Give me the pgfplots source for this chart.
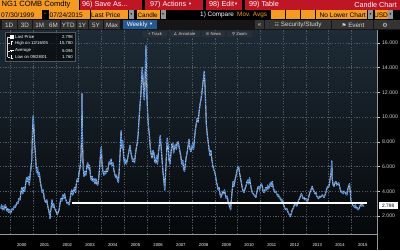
\documentclass[border=0pt]{standalone}
\usepackage{pgfplots}
\pgfplotsset{compat=1.18}
\usepackage{pgfplotstable}
\usepackage{fontspec}
\setmainfont{Liberation Sans}
\newfontfamily\dejavu{DejaVu Sans}
\newcommand{\fs}[1]{\fontsize{#1}{#1}\selectfont}
\definecolor{bbor}{RGB}{245,155,35}
\definecolor{bbred}{RGB}{190,22,36}
\definecolor{rowbg}{RGB}{22,22,22}
\definecolor{btn}{RGB}{52,52,52}
\definecolor{btntxt}{RGB}{215,215,215}
\definecolor{wkblue}{RGB}{38,88,148}
\definecolor{plottop}{RGB}{30,43,54}
\definecolor{plotbot}{RGB}{6,8,10}
\definecolor{gridc}{RGB}{78,88,98}
\definecolor{ytc}{RGB}{205,205,205}
\definecolor{candw}{RGB}{210,210,210}
\definecolor{candb}{RGB}{40,120,225}
\definecolor{ddgray}{RGB}{150,150,150}
\definecolor{ovl}{RGB}{42,48,56}

\pgfplotstableread{
x y
1999.58 2.6
1999.61 2.9
1999.65 2.5
1999.69 2.8
1999.73 2.5
1999.77 2.9
1999.81 2.7
1999.85 2.4
1999.88 2.6
1999.92 2.3
1999.96 2.5
2000.00 2.2
2000.04 2.4
2000.08 2.6
2000.12 2.5
2000.17 2.8
2000.21 2.7
2000.25 2.9
2000.29 3.1
2000.33 3.0
2000.37 3.4
2000.42 3.3
2000.46 3.9
2000.50 4.3
2000.54 3.8
2000.58 4.3
2000.62 4.0
2000.67 4.6
2000.71 5.1
2000.75 4.8
2000.79 5.2
2000.83 4.5
2000.87 5.4
2000.90 5.8
2000.94 6.6
2000.97 8.8
2001.00 10.1
2001.03 9.2
2001.06 7.9
2001.09 7.2
2001.12 6.3
2001.15 5.5
2001.19 5.9
2001.23 5.2
2001.27 5.5
2001.31 4.8
2001.35 4.4
2001.40 3.9
2001.44 4.1
2001.48 3.5
2001.52 3.2
2001.56 3.1
2001.60 3.3
2001.64 2.8
2001.68 2.5
2001.71 2.2
2001.74 1.8
2001.77 2.4
2001.80 2.8
2001.83 3.3
2001.87 2.7
2001.90 3.0
2001.94 2.6
2001.98 2.5
2002.02 2.3
2002.06 2.1
2002.10 2.3
2002.14 2.5
2002.18 3.0
2002.22 3.4
2002.26 3.2
2002.30 3.7
2002.34 3.4
2002.38 3.8
2002.42 3.4
2002.46 3.2
2002.50 3.0
2002.54 3.1
2002.58 2.9
2002.62 3.3
2002.66 3.8
2002.70 4.1
2002.74 3.7
2002.78 4.0
2002.82 4.3
2002.86 3.9
2002.90 4.6
2002.94 5.0
2002.98 4.8
2003.02 5.5
2003.06 5.9
2003.10 6.6
2003.13 8.5
2003.15 11.9
2003.17 8.0
2003.20 5.9
2003.24 5.2
2003.28 5.6
2003.32 5.3
2003.36 6.0
2003.40 6.3
2003.44 5.8
2003.48 6.1
2003.52 5.3
2003.56 4.9
2003.60 5.2
2003.64 4.8
2003.68 5.0
2003.72 4.6
2003.76 5.0
2003.80 4.6
2003.84 4.5
2003.88 5.0
2003.92 5.8
2003.96 6.9
2004.00 7.6
2004.03 6.2
2004.07 5.6
2004.11 5.3
2004.15 5.6
2004.19 5.4
2004.23 5.8
2004.27 5.6
2004.31 6.0
2004.35 6.4
2004.39 6.2
2004.43 6.6
2004.47 6.1
2004.51 6.3
2004.55 5.7
2004.59 5.4
2004.63 5.1
2004.67 5.3
2004.71 4.9
2004.75 4.7
2004.79 5.8
2004.83 7.2
2004.87 8.9
2004.90 7.5
2004.94 8.1
2004.98 6.8
2005.02 6.2
2005.06 6.6
2005.10 6.2
2005.14 6.5
2005.18 6.9
2005.22 7.3
2005.26 7.7
2005.30 7.1
2005.34 6.8
2005.38 6.4
2005.42 6.6
2005.46 6.3
2005.50 7.0
2005.54 7.5
2005.58 7.9
2005.62 8.6
2005.65 9.6
2005.68 10.4
2005.71 11.2
2005.74 11.8
2005.77 13.0
2005.80 14.0
2005.83 13.2
2005.86 12.1
2005.89 11.4
2005.92 12.6
2005.94 14.2
2005.96 15.78
2005.98 13.9
2006.01 11.5
2006.04 10.2
2006.07 9.3
2006.11 8.6
2006.15 7.6
2006.19 7.0
2006.23 6.7
2006.27 7.3
2006.31 7.1
2006.35 6.4
2006.39 6.3
2006.43 6.9
2006.47 6.2
2006.51 7.1
2006.55 7.7
2006.59 8.5
2006.63 7.6
2006.67 6.6
2006.71 5.6
2006.75 4.9
2006.79 4.1
2006.83 5.6
2006.87 7.1
2006.90 8.3
2006.94 7.6
2006.98 6.5
2007.02 6.2
2007.06 7.0
2007.10 7.8
2007.14 7.9
2007.18 7.1
2007.22 7.5
2007.26 7.8
2007.30 7.4
2007.34 7.9
2007.38 8.0
2007.42 7.6
2007.46 7.2
2007.50 6.8
2007.54 6.2
2007.58 6.5
2007.62 5.8
2007.66 5.6
2007.70 6.3
2007.74 6.8
2007.78 7.2
2007.82 7.7
2007.86 8.2
2007.90 7.4
2007.94 7.2
2007.98 7.5
2008.02 7.9
2008.06 7.4
2008.10 8.3
2008.14 9.0
2008.18 9.5
2008.22 9.9
2008.26 9.6
2008.30 10.4
2008.34 11.0
2008.38 11.4
2008.42 11.9
2008.46 12.6
2008.50 13.2
2008.53 13.7
2008.56 12.6
2008.59 11.0
2008.62 9.4
2008.66 8.6
2008.70 8.0
2008.74 7.4
2008.78 6.9
2008.82 7.3
2008.86 6.6
2008.90 6.1
2008.94 5.8
2008.98 5.6
2009.02 5.3
2009.06 4.8
2009.10 4.5
2009.14 4.1
2009.18 4.3
2009.22 3.8
2009.26 3.5
2009.30 3.7
2009.34 4.0
2009.38 3.8
2009.42 4.1
2009.46 3.7
2009.50 3.4
2009.54 3.6
2009.58 3.1
2009.62 2.9
2009.66 2.7
2009.69 2.5
2009.72 3.3
2009.76 4.1
2009.80 4.8
2009.84 4.4
2009.88 4.9
2009.92 5.2
2009.96 5.6
2010.00 5.9
2010.04 6.0
2010.08 5.5
2010.12 5.1
2010.16 4.7
2010.20 4.3
2010.24 4.0
2010.28 3.9
2010.32 4.2
2010.36 4.4
2010.40 4.7
2010.44 4.9
2010.48 4.6
2010.52 5.1
2010.56 4.6
2010.60 4.2
2010.64 3.9
2010.68 3.8
2010.72 3.7
2010.76 3.6
2010.80 3.5
2010.84 3.9
2010.88 4.3
2010.92 4.4
2010.96 4.1
2011.00 4.4
2011.04 4.6
2011.08 4.4
2011.12 4.0
2011.16 3.9
2011.20 4.1
2011.24 4.3
2011.28 4.1
2011.32 4.5
2011.36 4.2
2011.40 4.4
2011.44 4.7
2011.48 4.4
2011.52 4.8
2011.56 4.3
2011.60 4.1
2011.64 3.9
2011.68 4.0
2011.72 3.8
2011.76 3.6
2011.80 3.7
2011.84 3.4
2011.88 3.5
2011.92 3.2
2011.96 3.3
2012.00 3.0
2012.04 2.8
2012.08 2.6
2012.12 2.5
2012.16 2.6
2012.20 2.4
2012.24 2.2
2012.28 2.1
2012.32 1.95
2012.36 2.2
2012.40 2.5
2012.44 2.6
2012.48 2.8
2012.52 3.1
2012.56 2.9
2012.60 2.8
2012.64 3.0
2012.68 3.3
2012.72 3.4
2012.76 3.6
2012.80 3.8
2012.84 3.6
2012.88 3.4
2012.92 3.5
2012.96 3.3
2013.00 3.4
2013.04 3.3
2013.08 3.2
2013.12 3.5
2013.16 3.8
2013.20 4.0
2013.24 4.2
2013.28 4.4
2013.32 4.1
2013.36 4.0
2013.40 3.8
2013.44 3.9
2013.48 3.6
2013.52 3.5
2013.56 3.4
2013.60 3.6
2013.64 3.5
2013.68 3.6
2013.72 3.7
2013.76 3.6
2013.80 3.5
2013.84 3.7
2013.88 3.9
2013.92 4.2
2013.96 4.4
2014.00 4.3
2014.04 4.6
2014.08 5.2
2014.11 5.5
2014.14 6.45
2014.16 5.0
2014.20 4.5
2014.24 4.4
2014.28 4.7
2014.32 4.8
2014.36 4.5
2014.40 4.6
2014.44 4.7
2014.48 4.4
2014.52 4.1
2014.56 3.9
2014.60 4.0
2014.64 3.8
2014.68 4.0
2014.72 3.9
2014.76 3.8
2014.80 3.7
2014.84 4.1
2014.88 4.4
2014.92 4.6
2014.95 4.0
2014.98 3.3
2015.02 3.0
2015.06 2.9
2015.10 2.8
2015.14 2.7
2015.18 2.9
2015.22 2.6
2015.26 2.7
2015.30 2.5
2015.34 2.6
2015.38 2.8
2015.42 3.0
2015.46 2.8
2015.50 2.9
2015.54 2.8
2015.56 2.8
}\gas

\begin{document}
\begin{tikzpicture}
\useasboundingbox (0pt,0pt) rectangle (400pt,250pt);
\begin{scope}[x=1pt,y=1pt]
\fill[black] (0,0) rectangle (400,250);
\shade[top color=plottop, bottom color=plotbot] (0,16) rectangle (377,220);
\end{scope}

\begin{axis}[
  at={(0pt,16pt)}, anchor=south west, scale only axis,
  width=377pt, height=204pt,
  xmin=1999.54, xmax=2016.13, ymin=0.54, ymax=17.05,
  axis line style={draw=none},
  xtick={2000,2001,2002,2003,2004,2005,2006,2007,2008,2009,2010,2011,2012,2013,2014,2015},
  xticklabels={},
  ytick={2,4,6,8,10,12,14,16},
  grid=major,
  major grid style={dash pattern=on 1.2pt off 1.5pt, draw=gridc, line width=0.4pt},
  ytick pos=right, yticklabel pos=right,
  tick align=outside, major tick length=2.5pt,
  xtick style={draw=none},
  ytick style={draw=ytc, line width=0.4pt},
  yticklabel style={font=\fs{5.2}, text=ytc, xshift=-1pt},
  /pgf/number format/.cd, fixed, fixed zerofill, precision=3, assume math mode=true, /pgfplots/.cd,
  extra x ticks={1999.5,2000.5,2001.5,2002.5,2003.5,2004.5,2005.5,2006.5,2007.5,2008.5,2009.5,2010.5,2011.5,2012.5,2013.5,2014.5,2015.5},
  extra x tick labels={1999,2000,2001,2002,2003,2004,2005,2006,2007,2008,2009,2010,2011,2012,2013,2014,2015},
  extra x tick style={grid=none, xticklabel style={font=\fs{4.2}, text=white, yshift=-3.5pt}},
]
\addplot[draw=candw, line width=1.1pt, line join=round] table {\gas};
\addplot[draw=candb, line width=0.8pt, line join=round, dash pattern=on 1.8pt off 0.9pt] table {\gas};
\addplot[draw=white, line width=1.4pt] coordinates {(2002.7,3.05) (2015.7,3.05)};
\pgfplotsinvokeforeach{2000,2001,2002,2003,2004,2005,2006,2007,2008,2009,2010,2011,2012,2013,2014,2015}{
  \draw[draw=ddgray, line width=0.4pt] (axis cs:#1,0.54) -- ++(0pt,-16pt);
}
\end{axis}

\begin{scope}[x=1pt,y=1pt]
% axis frame lines
\draw[ddgray, line width=0.5pt] (0,16) -- (377,16);
\draw[ddgray, line width=0.4pt] (377,0) -- (377,220);
% last price label
\node[fill=white, text=black, font=\fs{4.8}, inner sep=0.8pt, minimum width=19pt, minimum height=7pt, anchor=west] at (378.5,44.5) {2.798};

% ---------- Row 1
\fill[bbor] (0,240.5) rectangle (79,250);
\node[anchor=west, font=\fs{7.6}, text=black, inner sep=0] at (1.5,245.2) {NG1 COMB Comdty};
\fill[bbred] (80,240.5) rectangle (142,250);
\fill[bbred] (145,240.5) rectangle (203,250);
\fill[bbred] (206,240.5) rectangle (242,250);
\fill[bbred] (245,240.5) rectangle (400,250);
\node[anchor=west, font=\fs{7.2}, text=white, inner sep=0] at (82,245.2) {96) Save As...};
\node[anchor=west, font=\fs{7.2}, text=white, inner sep=0] at (150,245.2) {97) Actions {\fs{4}\raisebox{0.8pt}{▼}}};
\node[anchor=west, font=\fs{7.2}, text=white, inner sep=0] at (209,245.2) {98) Edit{\fs{4}\raisebox{0.8pt}{▼}}};
\node[anchor=west, font=\fs{7.2}, text=white, inner sep=0] at (249,245.2) {99) Table};
\node[anchor=east, font=\fs{7.2}, text=white, inner sep=0] at (397,245.2) {Candle Chart};

% ---------- Row 2
\fill[bbor] (0,230.8) rectangle (41.5,239.7);
\node[anchor=west, font=\fs{6.6}, text=black, inner sep=0] at (1,235.2) {07/30/1999};
\node[font=\fs{7}, text=bbor, inner sep=0] at (45,235.4) {-};
\fill[bbor] (48.5,230.8) rectangle (89.5,239.7);
\node[anchor=west, font=\fs{6.6}, text=black, inner sep=0] at (49.5,235.2) {07/24/2015};
\fill[bbor] (90.5,230.8) rectangle (128,239.7);
\node[anchor=west, font=\fs{6.6}, text=black, inner sep=0] at (91,235.2) {Last Price};
\fill[ddgray] (128.7,230.8) rectangle (134,239.7);
\node[font=\fs{3}, text=black, inner sep=0] at (131.3,235.2) {▼};
\fill[bbor] (137,230.8) rectangle (160,239.7);
\node[anchor=west, font=\fs{6.3}, text=black, inner sep=0] at (137.5,235.2) {Candle};
\fill[ddgray] (160.7,230.8) rectangle (165.5,239.7);
\node[font=\fs{3}, text=black, inner sep=0] at (163.1,235.2) {▼};
\node[anchor=west, font=\fs{6.4}, text=white, inner sep=0] at (200,235.2) {1) Compare};
\node[anchor=west, font=\fs{6.4}, text=bbor, inner sep=0] at (237,235.2) {Mov. Avgs};
\fill[bbor] (271,230.8) rectangle (285,239.7);
\fill[bbor] (286,230.8) rectangle (299.5,239.7);
\fill[bbor] (300.5,230.8) rectangle (314.5,239.7);
\fill[bbor] (315.5,230.8) rectangle (367,239.7);
\node[anchor=east, font=\fs{6.6}, text=black, inner sep=0] at (366,235.2) {No Lower Chart};
\fill[ddgray] (368,230.8) rectangle (373,239.7);
\node[font=\fs{3}, text=black, inner sep=0] at (370.5,235.2) {▼};
\fill[bbor] (374.5,230.8) rectangle (387.5,239.7);
\node[font=\fs{6.6}, text=black, inner sep=0] at (381,235.2) {USD};
\fill[ddgray] (388,230.8) rectangle (393,239.7);
\node[font=\fs{3}, text=black, inner sep=0] at (390.5,235.2) {▼};

% ---------- Row 3
\fill[rowbg] (0,220) rectangle (400,230.3);
\foreach \a/\b/\t in {1.5/17/1D, 18/32/3D, 33/46.5/1M, 47/60/6M, 61/75.5/YTD, 76.5/88/1Y, 89/103/5Y, 104/120/Max}{
  \fill[btn] (\a,220.8) rectangle (\b,229.6);
  \node[font=\fs{6.3}, text=btntxt, inner sep=0] at ({(\a+\b)/2},225.1) {\t};
}
\fill[wkblue] (123,220.8) rectangle (157,229.6);
\node[font=\fs{6.3}, text=white, inner sep=0] at (140,225.1) {Weekly {\fs{4}\raisebox{0.6pt}{▼}}};
\fill[btn] (255,220.8) rectangle (264,229.6);
\node[font=\fs{6}, text=btntxt, inner sep=0] at (259.5,225.2) {«};
\fill[btn] (265,220.8) rectangle (331,229.6);
\node[font=\fs{6.3}, text=btntxt, inner sep=0] at (298,225.1) {{\dejavu\fs{5}☷} Security/Study};
\fill[btn] (332,220.8) rectangle (373,229.6);
\node[font=\fs{6.3}, text=btntxt, inner sep=0] at (353,225.1) {{\dejavu\fs{5.5}⚑} Event};
\fill[btn] (374,220.8) rectangle (400,229.6);
\node[font=\fs{6}, text=btntxt, inner sep=0] at (385,225.1) {\dejavu ⚙};

% ---------- overlay buttons
\foreach \a/\b/\t in {143/167/{+ Track}, 169/200/{{\dejavu ∠} Annotate}, 202/225/{{\dejavu ≡} News}, 227/252/{{\dejavu ⚲} Zoom}}{
  \fill[ovl] (\a,213) rectangle (\b,219.5);
  \node[font=\fs{4.2}, text=btntxt, inner sep=0] at ({(\a+\b)/2},216.2) {\t};
}

% ---------- legend box
\fill[black, opacity=0.55] (5,188.5) rectangle (75,218.3);
\draw[gridc, line width=0.4pt] (5,188.5) rectangle (75,218.3);
\draw[white!85!black, line width=0.4pt] (7.5,212.7) -- (7.5,193.3);
\foreach \yy in {212.7,206.7,199.3,193.3}{\draw[white!85!black, line width=0.4pt] (7.5,\yy) -- (9.5,\yy);}
\fill[white] (9.8,210.8) rectangle (13.6,214.6);
\draw[white, line width=0.5pt] (11.7,204.8) -- (11.7,208.6) (10.5,208.6) -- (12.9,208.6);
\draw[white, line width=0.5pt] (9.8,199.3) -- (13.6,199.3) (11.7,198.3) -- (11.7,200.3);
\draw[white, line width=0.5pt] (11.7,191.4) -- (11.7,195.2) (10.5,191.4) -- (12.9,191.4);
\node[anchor=west, font=\fs{4.3}, text=white, inner sep=0] at (15,212.7) {Last Price};
\node[anchor=west, font=\fs{4.3}, text=white, inner sep=0] at (15,206.7) {High on 12/16/05};
\node[anchor=west, font=\fs{4.3}, text=white, inner sep=0] at (15,199.3) {Average};
\node[anchor=west, font=\fs{4.3}, text=white, inner sep=0] at (15,193.3) {Low on 09/28/01};
\node[anchor=east, font=\fs{4.3}, text=white, inner sep=0] at (73,212.7) {2.798};
\node[anchor=east, font=\fs{4.3}, text=white, inner sep=0] at (73,206.7) {15.780};
\node[anchor=east, font=\fs{4.3}, text=white, inner sep=0] at (73,199.3) {5.094};
\node[anchor=east, font=\fs{4.3}, text=white, inner sep=0] at (73,193.3) {1.760};
\end{scope}
\end{tikzpicture}
\end{document}
